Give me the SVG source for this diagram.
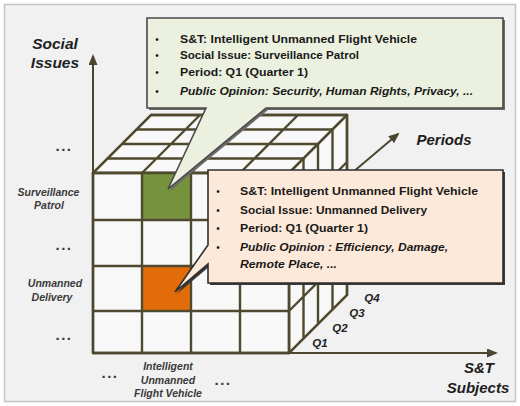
<svg xmlns="http://www.w3.org/2000/svg" width="520" height="406" viewBox="0 0 520 406">
<defs>
<marker id="ah" markerUnits="userSpaceOnUse" markerWidth="11" markerHeight="9" refX="9" refY="4.5" orient="auto">
<path d="M0,0 L11,4.5 L0,9 Z" fill="#4a4630"/>
</marker>
<style>
.g{fill:none;stroke:#4f4a2f;stroke-width:2.4;stroke-linejoin:round;stroke-linecap:round}
.face{fill:#f8f8f8;stroke:#4f4a2f;stroke-width:2.4;stroke-linejoin:round}
.ax{fill:none;stroke:#4a4630;stroke-width:2}
.big{font-family:"Liberation Sans",Arial,sans-serif;font-weight:bold;font-style:italic;fill:#1e1e1e;text-anchor:middle}
.sm{font-family:"Liberation Sans",Arial,sans-serif;font-weight:bold;font-style:italic;font-size:10.5px;fill:#3a3a3a;text-anchor:middle}
.dots{font-family:"Liberation Sans",Arial,sans-serif;font-weight:bold;font-size:15px;letter-spacing:1.5px;fill:#3a3a3a;text-anchor:middle}
.q{font-family:"Liberation Sans",Arial,sans-serif;font-weight:bold;font-style:italic;font-size:11.5px;fill:#222;text-anchor:middle}
.ct{font-family:"Liberation Sans",Arial,sans-serif;font-weight:bold;font-size:11.5px;fill:#1a1a1a}
.it{font-style:italic}
.bul{font-family:"Liberation Sans",Arial,sans-serif;font-size:10px;fill:#1a1a1a;text-anchor:middle}
</style>
</defs>
<rect x="0" y="0" width="520" height="406" fill="#ffffff"/>
<rect x="4.5" y="4.5" width="511" height="397" fill="#f1f1f1" stroke="#c4c4c4" stroke-width="1.5"/>

<g id="cube">
<polygon class="face" points="93,173 289,173 347,115 151,115"/>
<polygon class="face" points="289,173 347,115 347,295 289,353"/>
<rect class="face" x="93" y="173" width="196" height="180"/>
<rect id="cell-green" x="142" y="173" width="49" height="47" fill="#76923c"/>
<rect id="cell-orange" x="142" y="266" width="49" height="45" fill="#e36c0a"/>
<path class="g" d="M142,173V353 M191,173V353 M240,173V353 M93,220H289 M93,266H289 M93,311H289 M93,173H289V353H93Z"/>
<path class="g" d="M107.5,158.5H303.5 M122,144H318 M136.5,129.5H332.5 M151,115H347 M93,173L151,115 M142,173L200,115 M191,173L249,115 M240,173L298,115 M289,173L347,115"/>
<path class="g" d="M303.5,158.5V338.5 M318,144V324 M332.5,129.5V309.5 M347,115V295 M289,220L347,162 M289,266L347,208 M289,311L347,253 M289,353L347,295"/>
</g>

<g id="connectors">
<line class="ax" x1="93" y1="353" x2="93" y2="56" marker-end="url(#ah)"/>
<line class="ax" x1="93" y1="353" x2="496" y2="353" marker-end="url(#ah)"/>
<line class="ax" x1="340" y1="183" x2="398" y2="134" marker-end="url(#ah)"/>
</g>

<g id="axis-labels">
<text class="big" x="55" y="49" font-size="15.5">Social</text>
<text class="big" x="55" y="68" font-size="15.5">Issues</text>
<text class="big" x="444" y="145" font-size="15">Periods</text>
<text class="big" x="479" y="373" font-size="15">S&amp;T</text>
<text class="big" x="478" y="393" font-size="15">Subjects</text>
</g>

<g id="row-labels">
<text class="dots" x="64" y="151">...</text>
<text class="sm" x="48.5" y="195.5">Surveillance</text>
<text class="sm" x="49" y="209">Patrol</text>
<text class="dots" x="64" y="250">...</text>
<text class="sm" x="55" y="287">Unmanned</text>
<text class="sm" x="52" y="301">Delivery</text>
<text class="dots" x="64" y="340">...</text>
</g>

<g id="col-labels">
<text class="dots" x="110" y="378">...</text>
<text class="sm" x="168" y="369.5">Intelligent</text>
<text class="sm" x="168" y="383.5">Unmanned</text>
<text class="sm" x="168" y="397">Flight Vehicle</text>
<text class="dots" x="223" y="385">...</text>
</g>

<g id="period-labels">
<text class="q" x="320" y="347">Q1</text>
<text class="q" x="340" y="332">Q2</text>
<text class="q" x="357" y="317">Q3</text>
<text class="q" x="372" y="302">Q4</text>
</g>

<g id="callout-green">
<path d="M149,20 H505 V110 H268 L170,191 L208,110 H149 Z" fill="#6b6b6b"/>
<path d="M147,18 H503 V108 H266 L168,189 L206,108 H147 Z" fill="#ebf1de" stroke="#4a4a4a" stroke-width="1.6" stroke-linejoin="miter"/>
<text class="bul" x="157" y="43">•</text>
<text class="bul" x="157" y="59">•</text>
<text class="bul" x="157" y="76">•</text>
<text class="bul" x="157" y="95">•</text>
<text class="ct" x="180" y="43" textLength="237" lengthAdjust="spacingAndGlyphs">S&amp;T: Intelligent Unmanned Flight Vehicle</text>
<text class="ct" x="180" y="59" textLength="179" lengthAdjust="spacingAndGlyphs">Social Issue: Surveillance Patrol</text>
<text class="ct" x="180" y="76" textLength="128" lengthAdjust="spacingAndGlyphs">Period: Q1 (Quarter 1)</text>
<text class="ct it" x="180" y="95" textLength="293" lengthAdjust="spacingAndGlyphs">Public Opinion: Security, Human Rights, Privacy, ...</text>
</g>

<g id="callout-orange">
<path d="M210,172 H505 V285 H210 V266 L177,294 L210,247 Z" fill="#3a3a3a"/>
<path d="M208,170 H503 V283 H208 V264 L175,292 L208,245 Z" fill="#fde9d9" stroke="#2e2e2e" stroke-width="1.6" stroke-linejoin="miter"/>
<text class="bul" x="218" y="195">•</text>
<text class="bul" x="218" y="214">•</text>
<text class="bul" x="218" y="232">•</text>
<text class="bul" x="218" y="251">•</text>
<text class="ct" x="240" y="195" textLength="238" lengthAdjust="spacingAndGlyphs">S&amp;T: Intelligent Unmanned Flight Vehicle</text>
<text class="ct" x="240" y="214" textLength="187" lengthAdjust="spacingAndGlyphs">Social Issue: Unmanned Delivery</text>
<text class="ct" x="240" y="232" textLength="128" lengthAdjust="spacingAndGlyphs">Period: Q1 (Quarter 1)</text>
<text class="ct it" x="240" y="251" textLength="208" lengthAdjust="spacingAndGlyphs">Public Opinion : Efficiency, Damage,</text>
<text class="ct it" x="240" y="268" textLength="97" lengthAdjust="spacingAndGlyphs">Remote Place, ...</text>
</g>
</svg>
